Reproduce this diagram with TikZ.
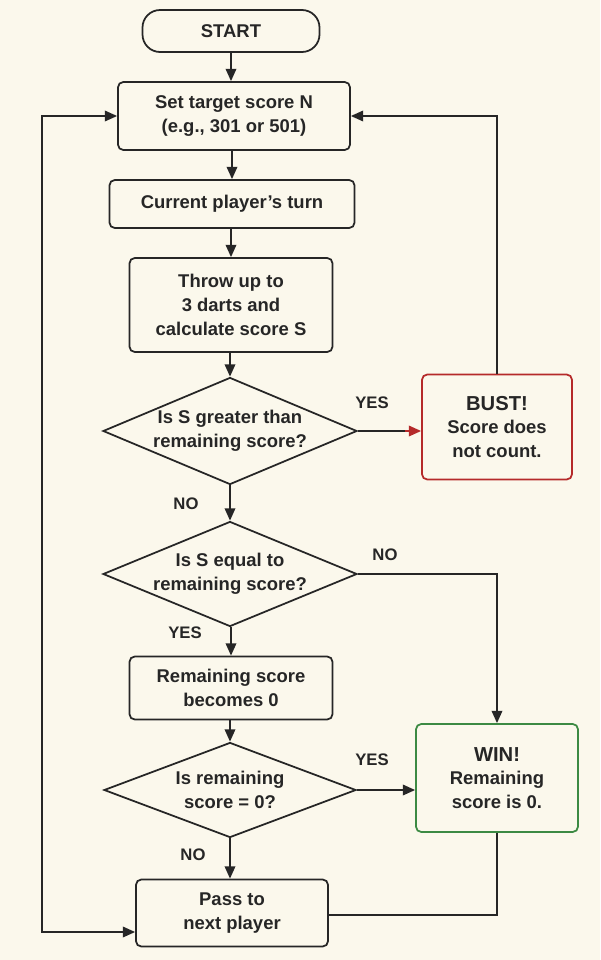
\documentclass[tikz,border=0pt]{standalone}
\usepackage{fontspec}
\setmainfont{Liberation Sans}
\usetikzlibrary{shapes.geometric,arrows.meta}
\definecolor{bg}{HTML}{FBF8EC}
\definecolor{bustred}{HTML}{B52A2A}
\definecolor{wingreen}{HTML}{3C8A43}
\begin{document}
\begin{tikzpicture}[x=0.02cm,y=-0.02cm,
  every node/.style={font=\fontsize{10.5}{13.5}\selectfont\bfseries, align=center, text=black!85},
  box/.style={draw=black!85, line width=1pt, rounded corners=3pt, inner sep=0pt},
  dia/.style={draw=black!85, line width=1pt, diamond, aspect=2.4, inner sep=0pt},
  line/.style={draw=black!85, line width=1pt},
  arr/.style={line, -{Triangle[length=7pt,width=6pt]}},
  lbl/.style={font=\fontsize{9.5}{11}\selectfont\bfseries}]
\fill[bg] (0,0) rectangle (600,960);
\node[box, rounded corners=10pt, minimum width=177*0.02cm, minimum height=42*0.02cm] (start) at (231,31) {START};
\node[box, minimum width=232*0.02cm, minimum height=68*0.02cm] (set) at (234,116) {Set target score N\\(e.g., 301 or 501)};
\node[box, minimum width=245*0.02cm, minimum height=48*0.02cm] (cur) at (232,204) {Current player's turn};
\node[box, minimum width=203*0.02cm, minimum height=94*0.02cm] (throw) at (231,305) {Throw up to\\3 darts and\\calculate score S};
\node[dia, minimum width=254*0.02cm, minimum height=107*0.02cm] (d1) at (230,431) {};
\node at (d1) {Is S greater than\\remaining score?};
\node[box, draw=bustred, minimum width=150*0.02cm, minimum height=105*0.02cm] (bust) at (497,427) {\fontsize{11.5}{14}\selectfont BUST!\\Score does\\not count.};
\node[dia, minimum width=254*0.02cm, minimum height=105*0.02cm] (d2) at (230,574) {};
\node at (d2) {Is S equal to\\remaining score?};
\node[box, minimum width=203*0.02cm, minimum height=63*0.02cm] (rem) at (231,688) {Remaining score\\becomes 0};
\node[dia, minimum width=252*0.02cm, minimum height=95*0.02cm] (d3) at (230,790) {};
\node at (d3) {Is remaining\\score = 0?};
\node[box, draw=wingreen, minimum width=162*0.02cm, minimum height=108*0.02cm] (win) at (497,778) {\fontsize{11.5}{14}\selectfont WIN!\\Remaining\\score is 0.};
\node[box, minimum width=192*0.02cm, minimum height=67*0.02cm] (pass) at (232,913) {Pass to\\next player};
\draw[arr] (start.south) -- (start.south |- set.north);
\draw[arr] (set.south -| cur.north) -- (cur.north);
\draw[arr] (cur.south -| throw.north) -- (throw.north);
\draw[arr] (throw.south -| d1.north) -- (d1.north);
\draw[line] (d1.east) -- (405,431);
\draw[draw=bustred, line width=1pt, -{Triangle[length=7pt,width=6pt]}] (405,431) -- (bust.west |- 0,431);
\node[lbl] (y1) at (372,403) {YES};
\draw[arr] (bust.north) -- (497,116) -- (set.east);
\draw[arr] (d1) -- (d2);
\node[lbl] (n1) at (186,504) {NO};
\draw[arr] (d2.east) -- (497,574) -- (win.north);
\node[lbl] (n2) at (385,555) {NO};
\draw[arr] (d2.south -| rem.north) -- (rem.north);
\node[lbl] (y2) at (185,633) {YES};
\draw[arr] (rem.south -| d3.north) -- (d3.north);
\draw[arr] (d3.east) -- (win.west |- 0,790);
\node[lbl] (y3) at (372,760) {YES};
\draw[arr] (d3.south) -- (d3.south |- pass.north);
\node[lbl] (n3) at (193,855) {NO};
\draw[line] (win.south) -- (497,915) -- (pass.east |- 0,915);
\draw[line, {Triangle[length=7pt,width=6pt]}-{Triangle[length=7pt,width=6pt]}] (set.west) -- (42,116) -- (42,932) -- (pass.west |- 0,932);
\end{tikzpicture}
\end{document}
